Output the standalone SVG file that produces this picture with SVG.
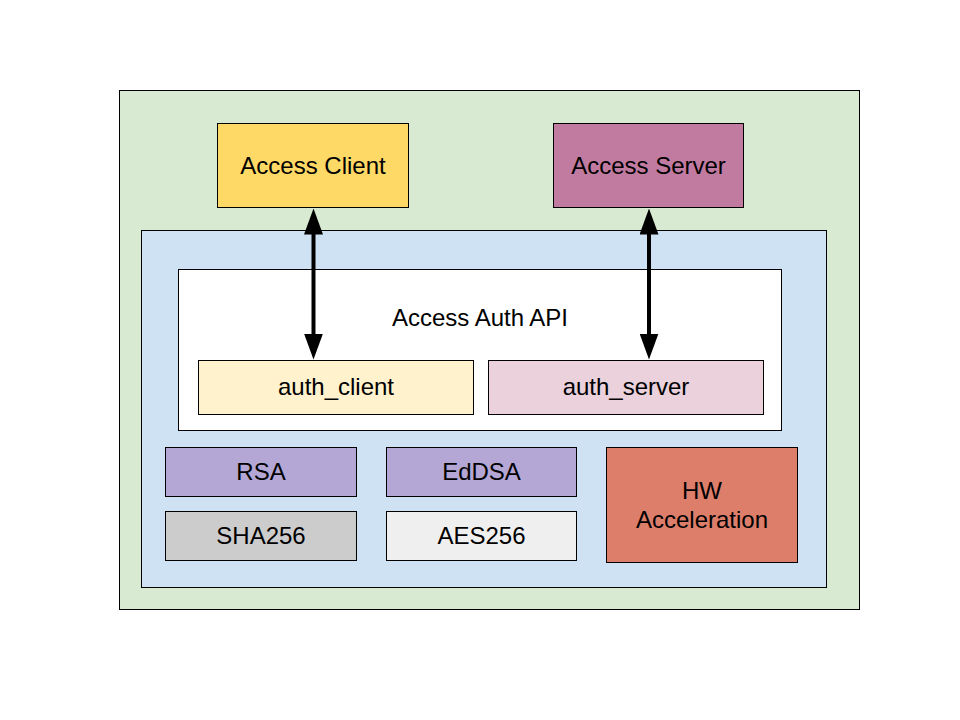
<svg xmlns="http://www.w3.org/2000/svg" width="960" height="720" viewBox="0 0 960 720">
<defs>
<style>
.b{stroke:#000;stroke-width:1}
.t{font-family:"Liberation Sans",Arial,sans-serif;font-size:24px;fill:#000;text-anchor:middle}
.c{stroke:#000;stroke-width:4;fill:none}
</style>
<marker id="ah" markerUnits="userSpaceOnUse" viewBox="0 0 26 19" markerWidth="26" markerHeight="19" refX="1" refY="9.5" orient="auto-start-reverse">
<path d="M0,0 L26,9.5 L0,19 z" fill="#000"/>
</marker>
</defs>
<rect width="960" height="720" fill="#fff"/>
<g id="system">
<rect class="b" x="119.5" y="90.5" width="740" height="519" fill="#d9ead3"/>
</g>
<g id="access-client">
<rect class="b" x="217.5" y="123.5" width="191" height="84" fill="#ffd966"/>
<text class="t" x="313" y="174">Access Client</text>
</g>
<g id="access-server">
<rect class="b" x="553.5" y="123.5" width="190" height="84" fill="#c27ba0"/>
<text class="t" x="648.5" y="174">Access Server</text>
</g>
<g id="library">
<rect class="b" x="141.5" y="230.5" width="685" height="357" fill="#cfe2f3"/>
</g>
<g id="access-auth-api">
<rect class="b" x="178.5" y="269.5" width="603" height="161" fill="#fff"/>
<text class="t" x="480" y="326">Access Auth API</text>
</g>
<g id="auth-client">
<rect class="b" x="198.5" y="360.5" width="275" height="54" fill="#fff2cc"/>
<text class="t" x="336" y="395">auth_client</text>
</g>
<g id="auth-server">
<rect class="b" x="488.5" y="360.5" width="275" height="54" fill="#ead1dc"/>
<text class="t" x="626" y="395">auth_server</text>
</g>
<g id="rsa">
<rect class="b" x="165.5" y="447.5" width="191" height="49" fill="#b4a7d6"/>
<text class="t" x="261" y="480">RSA</text>
</g>
<g id="eddsa">
<rect class="b" x="386.5" y="447.5" width="190" height="49" fill="#b4a7d6"/>
<text class="t" x="481.5" y="480">EdDSA</text>
</g>
<g id="sha256">
<rect class="b" x="165.5" y="511.5" width="191" height="49" fill="#cccccc"/>
<text class="t" x="261" y="544">SHA256</text>
</g>
<g id="aes256">
<rect class="b" x="386.5" y="511.5" width="190" height="49" fill="#efefef"/>
<text class="t" x="481.5" y="544">AES256</text>
</g>
<g id="hw-acceleration">
<rect class="b" x="606.5" y="447.5" width="191" height="115" fill="#dd7e6b"/>
<text class="t" x="702" y="499">HW</text>
<text class="t" x="702" y="528">Acceleration</text>
</g>
<g id="connectors">
<line class="c" x1="313.5" y1="233.5" x2="313.5" y2="334.5" marker-start="url(#ah)" marker-end="url(#ah)"/>
<line class="c" x1="649" y1="233.5" x2="649" y2="334.5" marker-start="url(#ah)" marker-end="url(#ah)"/>
</g>
</svg>
